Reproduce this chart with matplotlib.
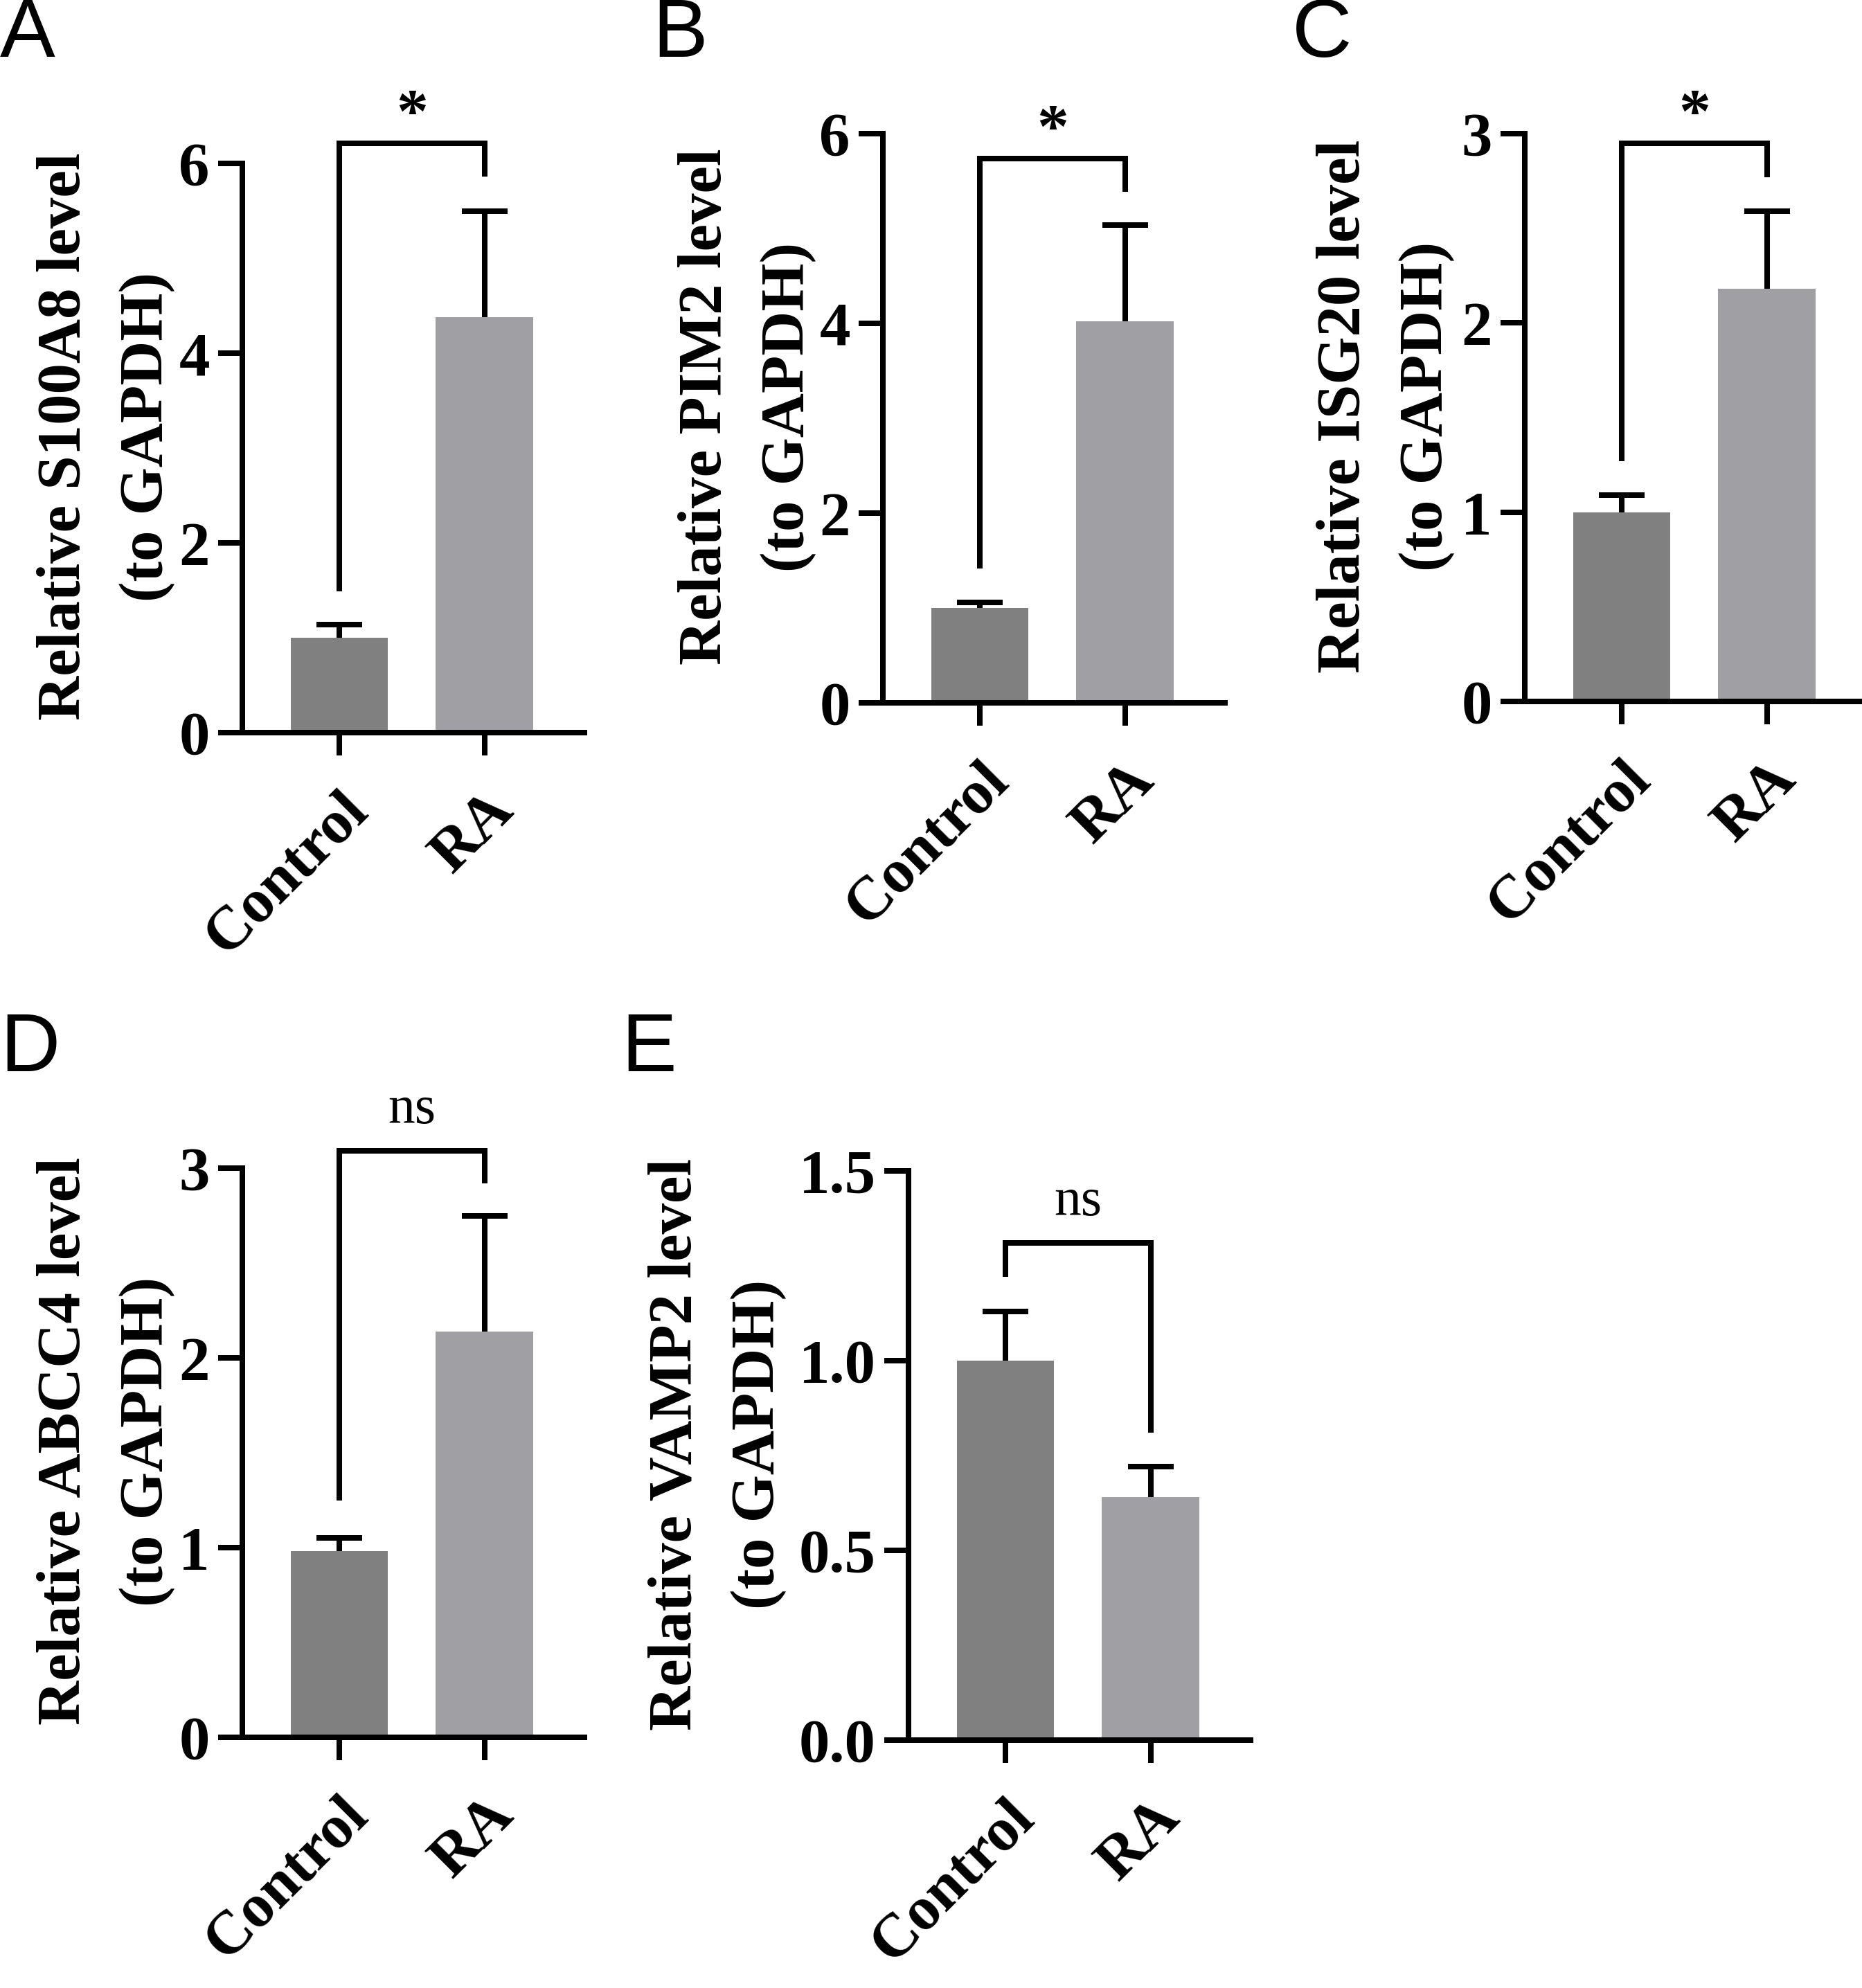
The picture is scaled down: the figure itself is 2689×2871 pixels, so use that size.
import matplotlib
matplotlib.use("Agg")
import matplotlib.pyplot as plt

# Data
groups = ["Control", "RA"]
panel_letters = ["A", "B", "C", "D", "E"]
genes = ["S100A8", "PIM2", "ISG20", "ABCC4", "VAMP2"]
control_mean = [1.00, 1.00, 1.00, 0.98, 1.00]
control_err = [0.14, 0.06, 0.09, 0.07, 0.13]
ra_mean = [4.38, 4.02, 2.18, 2.14, 0.64]
ra_err = [1.12, 1.02, 0.41, 0.61, 0.08]
sig_text = ["*", "*", "*", "ns", "ns"]
bracket_top = [6.21, 5.74, 2.95, 3.09, 1.31]
bracket_left_end = [1.49, 1.415, 1.27, 1.25, 1.22]
bracket_right_end = [5.86, 5.385, 2.77, 2.92, 0.81]
y_max = [6, 6, 3, 3, 1.5]
y_ticks = [[0, 2, 4, 6], [0, 2, 4, 6], [0, 1, 2, 3], [0, 1, 2, 3], [0, 0.5, 1.0, 1.5]]
y_ticklabels = [["0", "2", "4", "6"], ["0", "2", "4", "6"], ["0", "1", "2", "3"],
                ["0", "1", "2", "3"], ["0.0", "0.5", "1.0", "1.5"]]

# Layout (pixels): y-axis x, y of zero line, y of axis top
W, H = 2689, 2871
axes_px = [(350, 1058, 236), (1275, 1015, 193), (2202, 1013, 193),
           (350, 2509, 1687), (1312, 2513, 1691)]
axis_len = 494
label_x = [-0.40, -0.397, -0.407, -0.40, -0.56]
letter_px = [(0, 82), (942, 82), (1866, 82), (0, 1547), (897, 1547)]

ctrl_color = "#808080"
ra_color = "#a0a0a4"
lw = 5.76

plt.rcParams["font.family"] = ["Liberation Serif"]
plt.rcParams["font.weight"] = "bold"

fig = plt.figure(figsize=(W / 100, H / 100), dpi=100)

for i in range(5):
    x0, y0, ytop = axes_px[i]
    ax = fig.add_axes([x0 / W, 1 - y0 / H, axis_len / W, (y0 - ytop) / H])
    xs = [0, 1]
    means = [control_mean[i], ra_mean[i]]
    ax.bar(xs, means, width=0.67, color=[ctrl_color, ra_color], zorder=2)
    eb = ax.errorbar(xs, means, yerr=[[0, 0], [control_err[i], ra_err[i]]],
                     fmt="none", ecolor="black", elinewidth=lw, capsize=24,
                     capthick=lw, zorder=3)
    # only the upper caps (SEM drawn upward)
    for cap in eb[1]:
        if list(cap.get_ydata()) == means:
            cap.set_visible(False)

    # significance bracket
    ax.plot([0, 0, 1, 1],
            [bracket_left_end[i], bracket_top[i], bracket_top[i], bracket_right_end[i]],
            color="black", lw=lw, clip_on=False, solid_joinstyle="miter",
            solid_capstyle="butt", zorder=4)
    if sig_text[i] == "*":
        ax.annotate("*", xy=(0.5, bracket_top[i]), xytext=(0, 11.5),
                    textcoords="offset points", ha="center", va="baseline",
                    fontsize=66, fontweight="bold", annotation_clip=False)
    else:
        ax.annotate("ns", xy=(0.5, bracket_top[i]), xytext=(0, 29),
                    textcoords="offset points", ha="center", va="baseline",
                    fontsize=56, fontweight="normal", annotation_clip=False)

    ax.set_xlim(-0.67, 1.69)
    ax.set_ylim(0, y_max[i])
    for s in ["top", "right"]:
        ax.spines[s].set_visible(False)
    for s in ["left", "bottom"]:
        ax.spines[s].set_linewidth(lw)

    ax.set_yticks(y_ticks[i])
    ax.set_yticklabels(y_ticklabels[i], fontsize=64, fontweight="bold")
    ax.set_xticks(xs)
    ax.set_xticklabels(groups, fontsize=64, fontweight="bold", rotation=45,
                       ha="right", va="top", rotation_mode="anchor")
    ax.tick_params(axis="y", length=25, width=lw, pad=9)
    ax.tick_params(axis="x", length=24, width=lw, pad=27)

    ax.set_ylabel("Relative " + genes[i] + " level\n(to GAPDH)", fontsize=64,
                  fontweight="bold", linespacing=1.62)
    ax.yaxis.label.set_va("center")
    ax.yaxis.set_label_coords(label_x[i], 0.52)

    lx, ly = letter_px[i]
    fig.text(lx / W, 1 - ly / H, panel_letters[i], fontsize=86,
             family="Liberation Sans", fontweight="normal",
             ha="left", va="baseline")

fig.savefig("out.png", dpi=100)
